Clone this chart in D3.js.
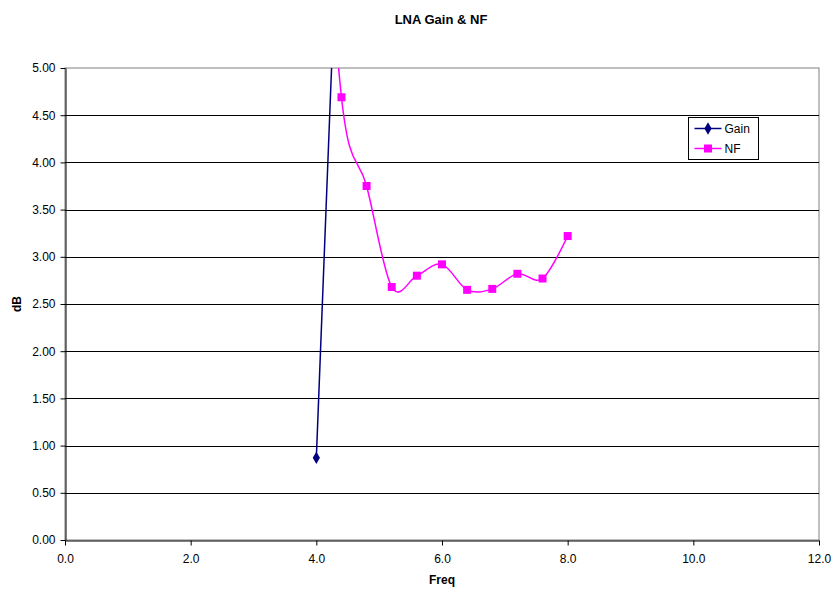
<!DOCTYPE html>
<html>
<head>
<meta charset="utf-8">
<script src="https://cdn.jsdelivr.net/npm/d3@7"></script>
<style>
  html, body { margin: 0; padding: 0; background: #fff; }
  svg { display: block; font-family: "Liberation Sans", Arial, sans-serif; }
</style>
</head>
<body>
<svg id="chart" width="833" height="592"></svg>
<script>
// Swept LNA measurement: frequency (GHz) vs. gain and noise figure (dB)
const freq = [4.0, 4.4, 4.8, 5.2, 5.6, 6.0, 6.4, 6.8, 7.2, 7.6, 8.0];
const gain = [0.87, 7.6, 13.6, 14.6, 14.9, 14.7, 14.3, 13.9, 13.4, 12.8, 12.1];
const nf   = [8.6, 4.69, 3.75, 2.68, 2.80, 2.92, 2.65, 2.66, 2.82, 2.77, 3.22];
const xTicks = [0, 2, 4, 6, 8, 10, 12];
const yTicks = [0, 0.5, 1, 1.5, 2, 2.5, 3, 3.5, 4, 4.5, 5];

const svg = d3.select("#chart");
const m = { left: 65, right: 819, top: 68, bottom: 540 };

const x = d3.scaleLinear().domain([0, 12]).range([m.left, m.right]);
const y = d3.scaleLinear().domain([0, 5]).range([m.bottom, m.top]);

// Plot frame: grey top and right edges
svg.append("rect")
  .attr("x", m.left).attr("y", m.top)
  .attr("width", m.right - m.left).attr("height", m.bottom - m.top)
  .attr("fill", "#fff").attr("stroke", "#808080").attr("stroke-width", 1);

// Horizontal gridlines
svg.append("g")
  .selectAll("line")
  .data(yTicks.filter(d => d > 0 && d < 5))
  .join("line")
  .attr("x1", m.left).attr("x2", m.right)
  .attr("y1", d => Math.round(y(d)) + 0.5).attr("y2", d => Math.round(y(d)) + 0.5)
  .attr("stroke", "#000").attr("stroke-width", 1);

// Axes
const yAxis = d3.axisLeft(y).tickValues(yTicks).tickFormat(d3.format(".2f"))
  .tickSize(5).tickSizeOuter(0);
const gy = svg.append("g").attr("transform", `translate(${m.left + 0.5},0)`).call(yAxis);
gy.selectAll("text").attr("font-size", 12).attr("fill", "#000").attr("dx", "-2");
gy.selectAll("line, path").attr("stroke", "#000");

const xAxis = d3.axisBottom(x).tickValues(xTicks).tickFormat(d3.format(".1f"))
  .tickSize(5).tickSizeOuter(0);
const gx = svg.append("g").attr("transform", `translate(0,${m.bottom + 0.5})`).call(xAxis);
gx.selectAll("text").attr("font-size", 12).attr("fill", "#000").attr("dy", "1.2em");
gx.selectAll("line, path").attr("stroke", "#000");

// Titles
svg.append("text").attr("x", 441).attr("y", 24).attr("text-anchor", "middle")
  .attr("font-size", 13).attr("font-weight", "bold").text("LNA Gain & NF");
svg.append("text").attr("x", 442).attr("y", 584).attr("text-anchor", "middle")
  .attr("font-size", 12).attr("font-weight", "bold").text("Freq");
svg.append("text").attr("transform", `translate(21,${(m.top + m.bottom) / 2}) rotate(-90)`)
  .attr("text-anchor", "middle").attr("font-size", 12).attr("font-weight", "bold").text("dB");

// Clip series to the plot area
svg.append("clipPath").attr("id", "plotClip")
  .append("rect").attr("x", m.left).attr("y", m.top)
  .attr("width", m.right - m.left).attr("height", m.bottom - m.top);

const plot = svg.append("g").attr("clip-path", "url(#plotClip)");

const line = d3.line().x(d => x(d[0])).y(d => y(d[1])).curve(d3.curveCardinal.tension(0));

const series = [
  { name: "Gain", values: gain, color: "#000080", shape: d3.symbolDiamond, size: 45 },
  { name: "NF",   values: nf,   color: "#FF00FF", shape: d3.symbolSquare,  size: 64 }
];

series.forEach(s => {
  const pts = freq.map((f, i) => [f, s.values[i]]);
  plot.append("path").datum(pts)
    .attr("d", line).attr("fill", "none")
    .attr("stroke", s.color).attr("stroke-width", 1.5);
  plot.append("g").selectAll("path")
    .data(pts.filter(p => p[1] >= 0 && p[1] <= 5))
    .join("path")
    .attr("transform", p => `translate(${x(p[0])},${y(p[1])})`)
    .attr("d", d3.symbol().type(s.shape).size(s.size))
    .attr("fill", s.color);
});

// Legend
const lg = svg.append("g").attr("transform", "translate(688.5,117.5)");
lg.append("rect").attr("width", 70).attr("height", 42)
  .attr("fill", "#fff").attr("stroke", "#000").attr("stroke-width", 1);
series.forEach((s, i) => {
  const cy = 11 + i * 20;
  lg.append("line").attr("x1", 6).attr("x2", 33).attr("y1", cy).attr("y2", cy)
    .attr("stroke", s.color).attr("stroke-width", 1.5);
  lg.append("path").attr("transform", `translate(19.5,${cy})`)
    .attr("d", d3.symbol().type(s.shape).size(s.size)).attr("fill", s.color);
  lg.append("text").attr("x", 36).attr("y", cy + 4.5)
    .attr("font-size", 12).text(s.name);
});
</script>
</body>
</html>
